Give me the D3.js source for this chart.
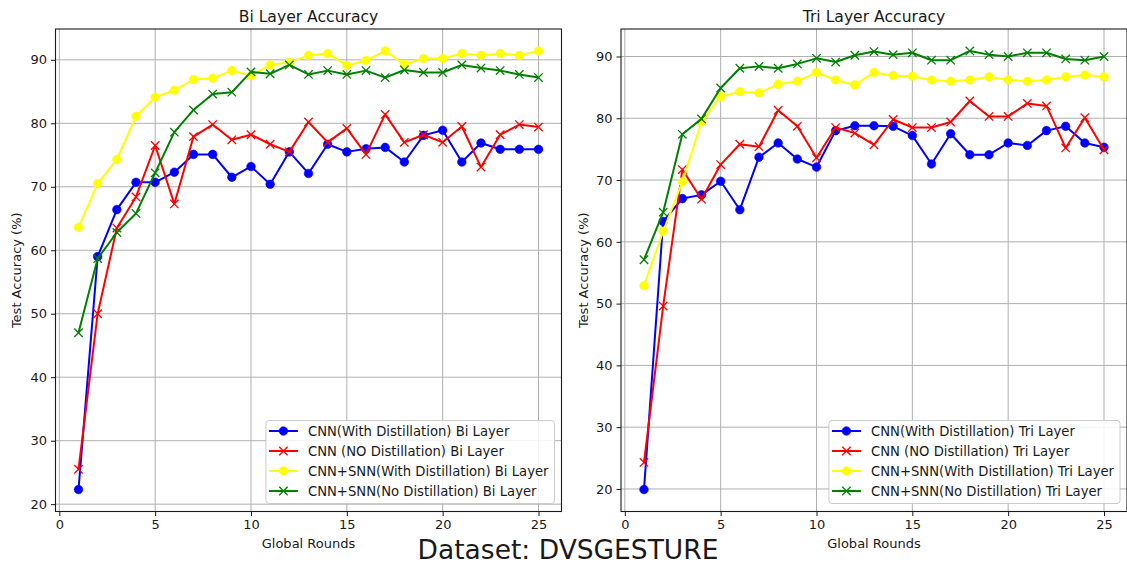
<!DOCTYPE html>
<html>
<head>
<meta charset="utf-8">
<script src="https://cdn.jsdelivr.net/npm/d3@7"></script>
<style>
  body { margin: 0; background: #ffffff; }
  svg { display: block; }
  text { font-family: "DejaVu Sans", sans-serif; fill: #1a1a1a; }
</style>
</head>
<body>
<svg id="chart" width="1127" height="565"></svg>
<script>
// Global federated rounds
const rounds = [1, 2, 3, 4, 5, 6, 7, 8, 9, 10, 11, 12, 13, 14, 15, 16, 17, 18, 19, 20, 21, 22, 23, 24, 25];

// Bi layer test accuracy (%)
const biCnnWithDist = [22.3, 59.0, 66.4, 70.7, 70.7, 72.3, 75.1, 75.1, 71.5, 73.2, 70.4, 75.5, 72.1, 76.7, 75.5, 76.0, 76.2, 73.9, 78.1, 78.9, 73.9, 76.9, 75.9, 75.9, 75.9];
const biCnnNoDist = [25.5, 50.0, 63.5, 68.4, 76.5, 67.3, 77.9, 79.8, 77.4, 78.2, 76.7, 75.5, 80.2, 77.0, 79.2, 75.1, 81.4, 77.0, 78.2, 77.0, 79.5, 73.1, 78.2, 79.8, 79.4];
const biSnnWithDist = [63.6, 70.5, 74.3, 81.1, 84.1, 85.2, 86.9, 87.1, 88.3, 87.5, 89.2, 89.6, 90.7, 91.0, 89.1, 89.9, 91.4, 89.3, 90.2, 90.2, 91.0, 90.7, 91.0, 90.7, 91.4];
const biSnnNoDist = [47.0, 58.7, 62.8, 65.8, 72.2, 78.6, 82.1, 84.6, 84.9, 88.1, 87.8, 89.2, 87.7, 88.3, 87.7, 88.3, 87.2, 88.4, 88.0, 88.0, 89.2, 88.7, 88.3, 87.7, 87.2];

// Tri layer test accuracy (%)
const triCnnWithDist = [19.9, 63.3, 67.0, 67.6, 69.8, 65.2, 73.7, 76.0, 73.4, 72.1, 78.0, 78.8, 78.8, 78.7, 77.2, 72.6, 77.5, 74.1, 74.1, 76.0, 75.6, 78.0, 78.7, 76.0, 75.3];
const triCnnNoDist = [24.3, 49.6, 71.7, 66.9, 72.5, 75.8, 75.4, 81.3, 78.7, 73.6, 78.5, 77.6, 75.7, 79.8, 78.5, 78.5, 79.4, 82.8, 80.3, 80.3, 82.4, 82.0, 75.2, 80.1, 74.9];
const triSnnWithDist = [52.9, 61.7, 69.7, 79.4, 83.5, 84.3, 84.1, 85.5, 86.0, 87.4, 86.2, 85.4, 87.4, 86.9, 86.8, 86.2, 86.0, 86.2, 86.7, 86.2, 86.0, 86.2, 86.7, 87.0, 86.7];
const triSnnNoDist = [57.1, 64.8, 77.4, 79.9, 84.9, 88.1, 88.4, 88.1, 88.8, 89.7, 89.1, 90.2, 90.8, 90.3, 90.6, 89.4, 89.4, 90.9, 90.3, 90.0, 90.6, 90.6, 89.6, 89.4, 90.0];

// Axis ticks
const xTicks = [0, 5, 10, 15, 20, 25];
const yTicks = [20, 30, 40, 50, 60, 70, 80, 90];

// Series styling: colour and marker
const seriesColors = ["#0000ff", "#ff0000", "#ffff00", "#008000"];
const seriesMarkers = ["circle", "cross", "circle", "cross"];

const biLabels = [
  "CNN(With Distillation) Bi Layer",
  "CNN (NO Distillation) Bi Layer",
  "CNN+SNN(With Distillation) Bi Layer",
  "CNN+SNN(No Distillation) Bi Layer"
];
const triLabels = [
  "CNN(With Distillation) Tri Layer",
  "CNN (NO Distillation) Tri Layer",
  "CNN+SNN(With Distillation) Tri Layer",
  "CNN+SNN(No Distillation) Tri Layer"
];

const svg = d3.select("#chart");

function drawMarker(g, type, color, cx, cy) {
  if (type === "circle") {
    g.append("circle").attr("cx", cx).attr("cy", cy).attr("r", 4.3)
      .attr("fill", color).attr("stroke", color).attr("stroke-width", 0.6);
  } else {
    const s = 4.2;
    g.append("path")
      .attr("d", `M${cx - s},${cy - s}L${cx + s},${cy + s}M${cx - s},${cy + s}L${cx + s},${cy - s}`)
      .attr("stroke", color).attr("stroke-width", 1.3).attr("fill", "none");
  }
}

function drawPanel(opts) {
  const { left, right, top, bottom, title, series, labels, ylabelX } = opts;
  const g = svg.append("g");

  const xMin = d3.min(rounds), xMax = d3.max(rounds);
  const xPad = (xMax - xMin) * 0.05;
  const x = d3.scaleLinear().domain([xMin - xPad, xMax + xPad]).range([left, right]);

  const all = series.flat();
  const yMin = d3.min(all), yMax = d3.max(all);
  const yPad = (yMax - yMin) * 0.05;
  const y = d3.scaleLinear().domain([yMin - yPad, yMax + yPad]).range([bottom, top]);

  // grid
  const grid = g.append("g");
  grid.selectAll("line.gx").data(xTicks).enter().append("line")
    .attr("x1", d => x(d)).attr("x2", d => x(d)).attr("y1", top).attr("y2", bottom)
    .attr("stroke", "#b0b0b0").attr("stroke-width", 1);
  grid.selectAll("line.gy").data(yTicks).enter().append("line")
    .attr("x1", left).attr("x2", right).attr("y1", d => y(d)).attr("y2", d => y(d))
    .attr("stroke", "#b0b0b0").attr("stroke-width", 1);

  // axes
  const xAxis = g.append("g").attr("transform", `translate(0,${bottom})`)
    .call(d3.axisBottom(x).tickValues(xTicks).tickSize(4.5).tickPadding(4).tickFormat(d3.format("d")));
  const yAxis = g.append("g").attr("transform", `translate(${left},0)`)
    .call(d3.axisLeft(y).tickValues(yTicks).tickSize(4.5).tickPadding(4).tickFormat(d3.format("d")));
  [xAxis, yAxis].forEach(a => {
    a.select(".domain").remove();
    a.selectAll("text").attr("font-size", 13).attr("fill", "#1a1a1a")
      .style("font-family", '"DejaVu Sans", sans-serif');
    a.selectAll("line").attr("stroke", "#1a1a1a").attr("stroke-width", 1);
  });

  // lines and markers
  const line = d3.line().x((d, i) => x(rounds[i])).y(d => y(d));
  series.forEach((vals, si) => {
    const sg = g.append("g");
    sg.append("path").datum(vals).attr("d", line)
      .attr("fill", "none").attr("stroke", seriesColors[si]).attr("stroke-width", 2)
      .attr("stroke-linejoin", "round");
    vals.forEach((v, i) => drawMarker(sg, seriesMarkers[si], seriesColors[si], x(rounds[i]), y(v)));
  });

  // frame
  g.append("rect").attr("x", left).attr("y", top).attr("width", right - left).attr("height", bottom - top)
    .attr("fill", "none").attr("stroke", "#1a1a1a").attr("stroke-width", 1.1);

  // title and axis labels
  g.append("text").attr("x", (left + right) / 2).attr("y", 21.5).attr("text-anchor", "middle")
    .attr("font-size", 15.6).text(title);
  g.append("text").attr("x", (left + right) / 2).attr("y", 548).attr("text-anchor", "middle")
    .attr("font-size", 13).text("Global Rounds");
  g.append("text").attr("transform", `translate(${ylabelX},${(top + bottom) / 2}) rotate(-90)`)
    .attr("text-anchor", "middle").attr("font-size", 13).text("Test Accuracy (%)");

  // legend
  const lg = g.append("g");
  const box = lg.append("rect").attr("rx", 3).attr("ry", 3)
    .attr("fill", "#ffffff").attr("fill-opacity", 0.85).attr("stroke", "#cccccc").attr("stroke-width", 1);
  const texts = [];
  labels.forEach((lab, i) => {
    texts.push(lg.append("text").attr("font-size", 13.2).attr("dy", "0.35em").text(lab));
  });
  const maxW = d3.max(texts, t => t.node().getComputedTextLength());
  const boxW = 42 + maxW + 6;
  const boxH = 83;
  const bx = right - 7 - boxW;
  const by = bottom - 8 - boxH;
  box.attr("x", bx).attr("y", by).attr("width", boxW).attr("height", boxH);
  labels.forEach((lab, i) => {
    const cy = by + 10.5 + i * 20;
    lg.append("line").attr("x1", bx + 3).attr("x2", bx + 32).attr("y1", cy).attr("y2", cy)
      .attr("stroke", seriesColors[i]).attr("stroke-width", 2);
    drawMarker(lg, seriesMarkers[i], seriesColors[i], bx + 17.5, cy);
    texts[i].attr("x", bx + 42).attr("y", cy);
  });
}

drawPanel({
  left: 55.5, right: 561.5, top: 29, bottom: 511.5,
  title: "Bi Layer Accuracy",
  series: [biCnnWithDist, biCnnNoDist, biSnnWithDist, biSnnNoDist],
  labels: biLabels, ylabelX: 21
});

drawPanel({
  left: 621, right: 1127, top: 29, bottom: 511.5,
  title: "Tri Layer Accuracy",
  series: [triCnnWithDist, triCnnNoDist, triSnnWithDist, triSnnNoDist],
  labels: triLabels, ylabelX: 588
});

svg.append("text").attr("x", 568).attr("y", 559).attr("text-anchor", "middle")
  .attr("font-size", 26.5).text("Dataset: DVSGESTURE");
</script>
</body>
</html>
